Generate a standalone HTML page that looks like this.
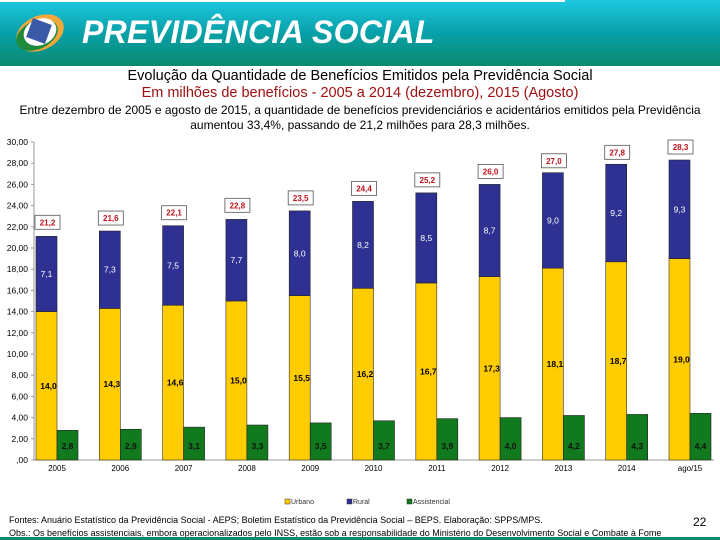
<!DOCTYPE html>
<html><head><meta charset="utf-8"><style>
body{margin:0;width:720px;height:540px;overflow:hidden;background:#fff;font-family:"Liberation Sans",sans-serif;position:relative}
.hdr{position:absolute;left:0;top:0;width:720px;height:66px;background:linear-gradient(#1ec8e0,#08a0a8 50%,#0a8a6e)}
.topline{position:absolute;left:0;top:0;width:565px;height:2px;background:#fff}
.brand{position:absolute;left:82px;top:14px;color:#fff;font-weight:bold;font-style:italic;font-size:32px;letter-spacing:0.3px}
.t1{position:absolute;top:68px;width:720px;text-align:center;font-size:14.5px;color:#000}
.t2{position:absolute;top:85px;width:720px;text-align:center;font-size:14.5px;color:#a01010}
.t3{position:absolute;top:103px;width:720px;text-align:center;font-size:12px;line-height:15px;color:#000}
.foot{position:absolute;left:9px;font-size:9px;color:#000;white-space:nowrap}
.pg{position:absolute;left:693px;top:515px;font-size:12px}
.bot{position:absolute;left:0;top:537px;width:720px;height:3px;background:#0a8a6e}
svg{position:absolute;left:0;top:0}
</style></head><body>
<div class="hdr"></div>
<div class="topline"></div>
<svg width="80" height="66">
<ellipse cx="40" cy="33" rx="25" ry="17" fill="#f4a83a" transform="rotate(-25 40 33)"/>
<ellipse cx="37" cy="35" rx="22" ry="14" fill="#1e8a3a" transform="rotate(-25 37 35)"/>
<ellipse cx="40" cy="32" rx="17" ry="13" fill="#fff" transform="rotate(-25 40 32)"/>
<rect x="29" y="21" width="20" height="20" fill="#3a5aa8" transform="rotate(20 39 31)"/>
</svg>
<div class="brand">PREVIDÊNCIA SOCIAL</div>
<div class="t1">Evolução da Quantidade de Benefícios Emitidos pela Previdência Social</div>
<div class="t2">Em milhões de benefícios - 2005 a 2014 (dezembro), 2015 (Agosto)</div>
<div class="t3">Entre dezembro de 2005 e agosto de 2015, a quantidade de benefícios previdenciários e acidentários emitidos pela Previdência<br>aumentou 33,4%, passando de 21,2 milhões para 28,3 milhões.</div>
<svg id="chart" width="720" height="540"></svg>
<div class="foot" style="top:515px">Fontes: Anuário Estatístico da Previdência Social - AEPS; Boletim Estatístico da Previdência Social – BEPS. Elaboração: SPPS/MPS.</div>
<div class="foot" style="top:528px">Obs.: Os benefícios assistenciais, embora operacionalizados pelo INSS, estão sob a responsabilidade do Ministério do Desenvolvimento Social e Combate à Fome</div>
<div class="pg">22</div>
<div class="bot"></div>
<script>
const categories=["2005","2006","2007","2008","2009","2010","2011","2012","2013","2014","ago/15"];
const urbano=[14.0,14.3,14.6,15.0,15.5,16.2,16.7,17.3,18.1,18.7,19.0];
const rural=[7.1,7.3,7.5,7.7,8.0,8.2,8.5,8.7,9.0,9.2,9.3];
const assist=[2.8,2.9,3.1,3.3,3.5,3.7,3.9,4.0,4.2,4.3,4.4];
const totals=[21.2,21.6,22.1,22.8,23.5,24.4,25.2,26.0,27.0,27.8,28.3];
const yTicks=[0,2,4,6,8,10,12,14,16,18,20,22,24,26,28,30];
const NS="http://www.w3.org/2000/svg";
const svg=document.getElementById('chart');
const y0=460,yTop=142,vmax=30;
const y=v=>y0-(y0-yTop)*v/vmax;
const gx=i=>36+63.3*i;
const bw=21;
const fmt=v=>v.toFixed(1).replace('.',',');
function mk(tag,attrs,txt){const e=document.createElementNS(NS,tag);for(const k in attrs)e.setAttribute(k,attrs[k]);if(txt!==undefined)e.textContent=txt;svg.appendChild(e);return e;}
const ax=mk('line',{x1:34,y1:yTop,x2:34,y2:y0,stroke:'#999','stroke-width':1});


const bx=mk('line',{x1:34,y1:y0,x2:714,y2:y0,stroke:'#999','stroke-width':1});


yTicks.forEach(t=>{
 const tl=mk('text',{x:28,y:y(t)+3,'text-anchor':'end','font-size':8.5,fill:'#000'},t===0?',00':t.toFixed(2).replace('.',','));
 
 
 mk('line',{x1:31,y1:y(t),x2:34,y2:y(t),stroke:'#999'});
});
categories.forEach((c,i)=>{
 const x=gx(i);
 const u=mk('rect',{x:x,y:y(urbano[i]),width:bw,height:y0-y(urbano[i]),fill:'#ffcc00',stroke:'#333','stroke-width':0.6});
 
 
 const r=mk('rect',{x:x,y:y(urbano[i]+rural[i]),width:bw,height:y(urbano[i])-y(urbano[i]+rural[i]),fill:'#2e3192',stroke:'#222','stroke-width':0.6});
 
 
 const a=mk('rect',{x:x+bw,y:y(assist[i]),width:bw,height:y0-y(assist[i]),fill:'#127a1e',stroke:'#222','stroke-width':0.6});
 
 
 const ul=mk('text',{x:x+bw/2+2,y:y(urbano[i]/2)+3,'text-anchor':'middle','font-size':8.5,'font-weight':'bold',fill:'#000'},fmt(urbano[i]));
 
 
 const rl=mk('text',{x:x+bw/2,y:y(urbano[i]+rural[i]/2)+3,'text-anchor':'middle','font-size':8.5,fill:'#fff'},fmt(rural[i]));
 
 
 const al=mk('text',{x:x+bw+bw/2,y:y0-11,'text-anchor':'middle','font-size':8.5,'font-weight':'bold',fill:'#111'},fmt(assist[i]));
 
 
 const ty=y(totals[i])-20;
 const tb=mk('rect',{x:x-1,y:ty,width:25,height:14,fill:'#fff',stroke:'#555','stroke-width':0.8});
 
 
 const tt=mk('text',{x:x+11.5,y:ty+10,'text-anchor':'middle','font-size':8,'font-weight':'bold',fill:'#c0101a'},fmt(totals[i]));
 
 
 const xl=mk('text',{x:x+bw,y:y0+11,'text-anchor':'middle','font-size':8,fill:'#000'},c);
 
 
});
const legend=[["Urbano","#ffcc00",285],["Rural","#2e3192",347],["Assistencial","#127a1e",407]];
legend.forEach(l=>{
 const g=document.createElementNS(NS,'g');
 
 
 svg.appendChild(g);
 const s=document.createElementNS(NS,'rect');
 s.setAttribute('x',l[2]);s.setAttribute('y',499);s.setAttribute('width',5);s.setAttribute('height',5);s.setAttribute('fill',l[1]);s.setAttribute('stroke','#333');s.setAttribute('stroke-width',0.5);
 g.appendChild(s);
 const t=document.createElementNS(NS,'text');
 t.setAttribute('x',l[2]+6);t.setAttribute('y',504);t.setAttribute('font-size',7);t.setAttribute('fill','#333');t.textContent=l[0];
 g.appendChild(t);
});
</script>
</body></html>
